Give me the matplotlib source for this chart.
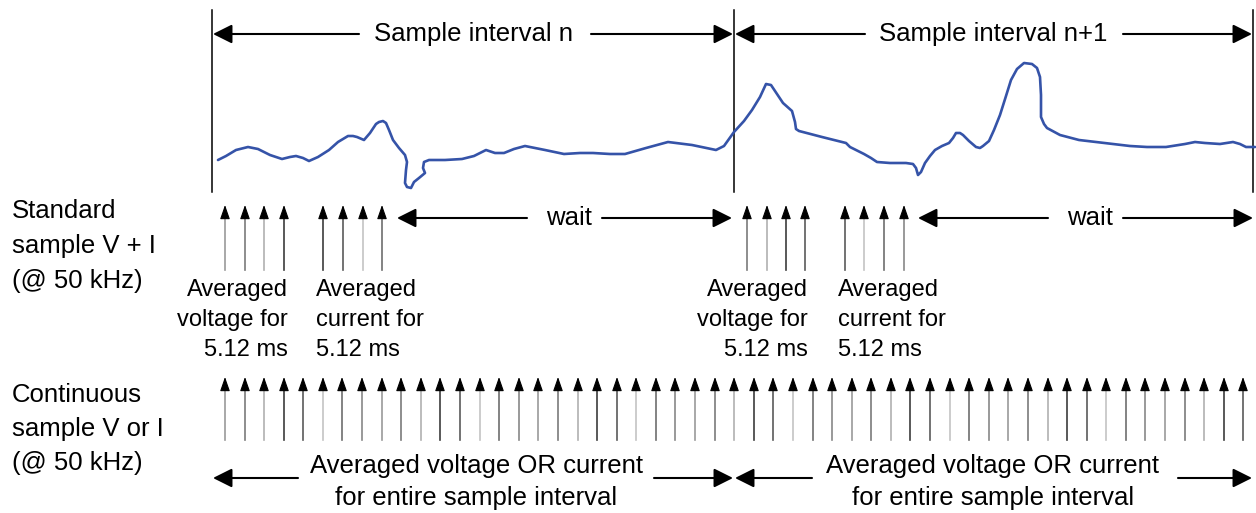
import matplotlib.pyplot as plt

plt.rcParams['font.family'] = ['Liberation Sans', 'DejaVu Sans']

##---------------------------input data-------------------------------##
interval_edges = [212, 734, 1253]
interval_labels = ['Sample interval n', 'Sample interval n+1']

# signal trace as (x, y) pairs
wave_points = [(218, 160), (226, 156), (236, 150), (248, 147), (258, 149), (270, 155), (282, 159),
               (290, 157), (296, 156), (303, 158), (309, 161), (318, 157), (329, 150), (338, 142),
               (348, 136), (353, 136), (357, 137), (364, 140), (370, 133), (376, 124), (379, 122),
               (383, 121), (386, 123), (389, 130), (393, 140), (399, 148), (405, 155), (407, 162),
               (406, 170), (405, 183), (407, 187), (411, 188), (414, 182), (419, 178), (425, 173),
               (423, 168), (424, 162), (429, 160), (445, 160), (462, 159), (474, 156), (486, 150),
               (495, 153), (504, 153), (514, 149), (525, 146), (545, 150), (564, 154), (580, 153),
               (593, 153), (610, 154), (625, 154), (646, 148), (668, 142), (692, 145), (716, 150),
               (724, 146), (734, 132), (744, 121), (752, 110), (760, 97), (766, 84), (771, 85),
               (777, 94), (783, 103), (792, 111), (795, 122), (796, 129), (799, 131), (822, 137),
               (846, 143), (850, 147), (852, 148), (858, 151), (864, 154), (871, 158), (877, 162),
               (890, 163), (906, 163), (913, 164), (916, 168), (918, 175), (921, 172), (925, 163),
               (930, 156), (935, 150), (942, 146), (949, 143), (953, 138), (956, 133), (960, 133),
               (963, 135), (969, 141), (976, 147), (980, 148), (983, 146), (989, 141), (994, 130),
               (1000, 115), (1006, 96), (1011, 80), (1017, 69), (1024, 63), (1032, 64), (1037, 68),
               (1040, 77), (1041, 95), (1041, 117), (1044, 124), (1047, 128), (1060, 135),
               (1079, 140), (1096, 142), (1113, 144), (1130, 146), (1147, 147), (1166, 147),
               (1185, 144), (1195, 142), (1205, 143), (1220, 144), (1233, 142), (1240, 144),
               (1246, 147), (1255, 147)]
wave_x = [p[0] for p in wave_points]
wave_y = [p[1] for p in wave_points]

voltage_samples = [[225, 245, 264, 284], [747, 767, 786, 805]]
current_samples = [[323, 343, 363, 382], [845, 864, 884, 904]]
continuous_samples = [225, 245, 264, 284, 303, 323, 342, 362, 382, 401, 421, 440, 460, 480,
                      499, 519, 538, 558, 578, 597, 617, 636, 656, 675, 695, 715, 734, 754,
                      773, 793, 813, 832, 852, 871, 891, 910, 930, 950, 969, 989, 1008, 1028,
                      1048, 1067, 1087, 1106, 1126, 1145, 1165, 1185, 1204, 1224, 1243]

wait_ends = [(397, 732), (918, 1253)]
wait_text_x = [569, 1090]
shaft_greys = ['#9a9a9a', '#7a7a7a', '#b0b0b0', '#3c3c3c', '#5a5a5a', '#c4c4c4', '#6e6e6e', '#888888']

##----------------------------figure----------------------------------##
fig = plt.figure(figsize=(12.56, 5.13), dpi=100)
ax = fig.add_axes([0, 0, 1, 1])
ax.set_xlim(0, 1256)
ax.set_ylim(513, 0)
ax.axis('off')


def arrow(x0, y0, x1, y1, hl=0.58, hw=0.29, ms=20, lw=1.5, color='black'):
    ax.annotate('', xy=(x1, y1), xytext=(x0, y0),
                arrowprops=dict(arrowstyle='-|>,head_length=%s,head_width=%s' % (hl, hw),
                                lw=lw, color=color, shrinkA=0, shrinkB=0, mutation_scale=ms))


def span_arrow(left, right, y, gap_left, gap_right):
    # double arrow with a gap for the text in the middle
    arrow(gap_left, y, left + 1, y)
    arrow(gap_right, y, right - 1, y)


def sample_arrows(xs, tip, bottom, start=0):
    for i, x in enumerate(xs):
        ax.plot([x, x], [bottom, tip + 6], color=shaft_greys[(i + start) % len(shaft_greys)], lw=1.2)
        arrow(x, tip + 12, x, tip, hl=0.86, hw=0.3, ms=10, lw=0.8)


# interval borders and top labels
for x in interval_edges:
    ax.plot([x, x], [10, 192], color='black', lw=1.1)

span_arrow(interval_edges[0], interval_edges[1], 34, 359, 591)
span_arrow(interval_edges[1], interval_edges[2], 34, 865, 1123)
ax.text(474, 34, interval_labels[0], ha='center', va='center', fontsize=18.5)
ax.text(993, 34, interval_labels[1], ha='center', va='center', fontsize=18.5)

# waveform
ax.plot(wave_x, wave_y, color='#3553a8', lw=1.9, solid_joinstyle='round', solid_capstyle='round')

# standard sampling
for k in range(2):
    sample_arrows(voltage_samples[k], 205, 270, start=k)
    sample_arrows(current_samples[k], 205, 270, start=k + 3)
    l, r = wait_ends[k]
    mid = wait_text_x[k]
    span_arrow(l - 1, r + 1, 218, mid - 42, mid + 33)
    ax.text(mid, 218, 'wait', ha='center', va='center', fontsize=18.5)

left_label_1 = ['Standard', 'sample V + I', '(@ 50 kHz)']
left_label_2 = ['Continuous', 'sample V or I', '(@ 50 kHz)']
for i, s in enumerate(left_label_1):
    ax.text(12, 218 + 35 * i, s, ha='left', va='baseline', fontsize=18.5)
for i, s in enumerate(left_label_2):
    ax.text(12, 402 + 34 * i, s, ha='left', va='baseline', fontsize=18.5)

volt_text = ['Averaged', 'voltage for', '5.12 ms']
curr_text = ['Averaged', 'current for', '5.12 ms']
for xr, xl in [(288, 316), (808, 838)]:
    for i in range(3):
        ax.text(xr, 296 + 30 * i, volt_text[i], ha='right', va='baseline', fontsize=17)
        ax.text(xl, 296 + 30 * i, curr_text[i], ha='left', va='baseline', fontsize=17)

# continuous sampling
sample_arrows(continuous_samples, 377, 440)
span_arrow(interval_edges[0], interval_edges[1], 478, 298, 654)
span_arrow(interval_edges[1], interval_edges[2], 478, 812, 1178)
for xc in [476, 993]:
    ax.text(xc, 473, 'Averaged voltage OR current', ha='center', va='baseline', fontsize=18.5)
    ax.text(xc, 505, 'for entire sample interval', ha='center', va='baseline', fontsize=18.5)

fig.savefig('out.png', dpi=100)
